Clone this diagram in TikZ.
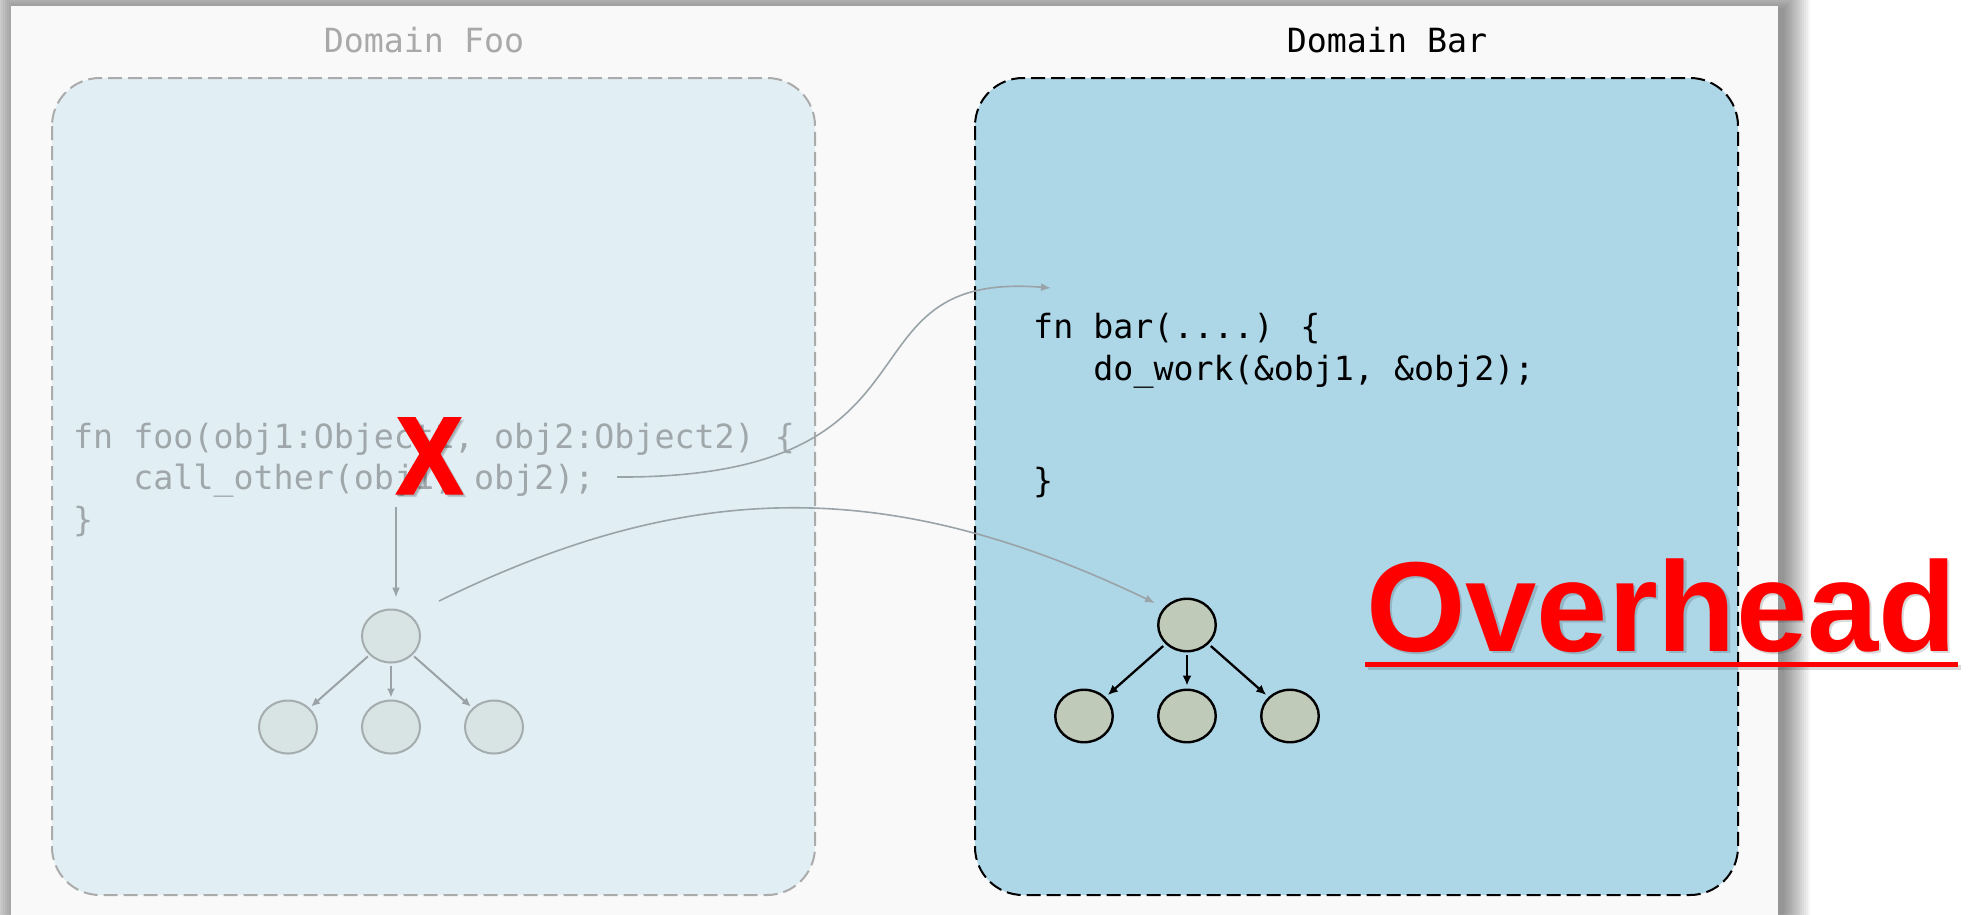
\documentclass[tikz,border=0pt]{standalone}
\usepackage{graphicx}
\usepackage{fontspec}
\usetikzlibrary{arrows.meta,shapes.geometric,calc}
\newfontfamily\codefont{DejaVu Sans Mono}
\newfontfamily\bannerfont{Liberation Sans}
\newfontfamily\heavyfont[FakeBold=3]{Liberation Sans Bold}
\definecolor{panelbg}{HTML}{F9F9F9}
\definecolor{cFooFill}{HTML}{E1EEF4}
\definecolor{cFooDash}{HTML}{ABABAB}
\definecolor{cBarFill}{HTML}{ADD6E7}
\definecolor{cFooText}{HTML}{9FA7AB}
\definecolor{cFooTitle}{HTML}{A9A9A9}
\definecolor{cFooBall}{HTML}{D8E3E3}
\definecolor{cFooBallEdge}{HTML}{A4ACAE}
\definecolor{cFooArrow}{HTML}{9AA2A7}
\definecolor{cBarBall}{HTML}{BFCAB9}
\definecolor{cLink}{HTML}{9AA3A8}
\definecolor{cAlert}{HTML}{FF0000}

\begin{document}
\begin{tikzpicture}[x=1pt,y=-1pt,
  code/.style={font=\codefont\fontsize{33.3}{40}\selectfont, inner sep=0pt, anchor=base west},
  domainbox/.style={rounded corners=48pt, line width=2pt, dash pattern=on 14pt off 6pt},
  fooball/.style={ellipse, draw=cFooBallEdge, fill=cFooBall, line width=2pt,
    minimum width=58pt, minimum height=53pt, inner sep=0pt},
  barball/.style={ellipse, draw=black, fill=cBarBall, line width=2.4pt,
    minimum width=57.5pt, minimum height=52.5pt, inner sep=0pt},
  fooedge/.style={draw=cFooArrow, line width=2pt, -{Latex[length=9pt,width=8pt]},
    shorten <=2pt, shorten >=2pt},
  baredge/.style={draw=black, line width=2.3pt, -{Latex[length=10pt,width=9pt]},
    shorten <=3pt, shorten >=3pt},
  link/.style={draw=cLink, line width=1.6pt, -{Latex[length=10pt,width=8pt]}},
  bigred/.style={font=\bannerfont\bfseries\fontsize{128}{128}\selectfont, text=cAlert,
    inner sep=0pt, anchor=base west},
  crossmark/.style={font=\heavyfont\fontsize{108}{108}\selectfont, text=cAlert,
    inner sep=0pt, anchor=base},
]
\useasboundingbox (0,0) rectangle (1971,914);
\fill[white] (0,0) rectangle (1971,914);
\clip (0,0) rectangle (1971,914);

% soft shadow under the slide panel
\foreach \i in {1,...,14}{
  \fill[black, opacity=0.035] ({17-2*\i},{10-2*\i}) rectangle ({1782+2*\i},{930+2*\i});
}
\fill[panelbg] (11,6) rectangle (1778,940);

% the two domains
\draw[domainbox, draw=cFooDash, fill=cFooFill] (52,78) rectangle (815,895);
\draw[domainbox, draw=black, fill=cBarFill] (975,78) rectangle (1738,895);

\node[code, anchor=base, text=cFooTitle] (tfoo) at (424,52) {Domain Foo};
\node[code, anchor=base] (tbar) at (1387,52) {Domain Bar};

% code in domain Foo
\node[code, text=cFooText] (foo1) at (73,448) {fn foo(obj1:Object1, obj2:Object2) \{};
\node[code, text=cFooText] (foo2) at (133.2,489.5) {call\_other(obj1, obj2);};
\node[code, text=cFooText] (foo3) at (73,531) {\}};

% code in domain Bar
\node[code] (bar1) at (1033,338) {fn bar(....) \{};
\node[code] (bar2) at (1093.2,380) {do\_work(\&obj1, \&obj2);};
\node[code] (bar3) at (1033,492) {\}};

% object tree in Foo
\node[fooball] (fr) at (391,636) {};
\node[fooball] (fc1) at (288,727) {};
\node[fooball] (fc2) at (391,727) {};
\node[fooball] (fc3) at (494,727) {};
\draw[fooedge] (fr) -- (fc1);
\draw[fooedge] (fr) -- (fc2);
\draw[fooedge] (fr) -- (fc3);

% object tree in Bar
\node[barball] (br) at (1187,625) {};
\node[barball] (bc1) at (1084,716) {};
\node[barball] (bc2) at (1187,716) {};
\node[barball] (bc3) at (1290,716) {};
\draw[baredge] (br) -- (bc1);
\draw[baredge] (br) -- (bc2);
\draw[baredge] (br) -- (bc3);

% links
\coordinate (callsite) at (396,507);
\draw[link] (callsite) -- (callsite |- fr.north) [shorten >=11pt];
\coordinate (callout) at (617,477);
\coordinate (barentry) at (1051,288);
\draw[link] (callout) .. controls (960,479) and (830,270) .. (barentry);
\draw[link] ($(fr)+(48,-35)$) .. controls (690,478) and (890,476) .. ($(br)+(-32,-22)$);

% red cross
\node[crossmark, text=black, text opacity=0.15] (crossshade) at (432,495.5) {\scalebox{0.9}[1]{X}};
\node[crossmark] (cross) at (429.5,493) {\scalebox{0.9}[1]{X}};

% overhead banner
\node[bigred, text=black, text opacity=0.15] (ovhshade) at (1368.5,653.5) {Overhead};
\draw[black, opacity=0.15, line width=5pt] ($(ovhshade.base west)+(-1,13.5)$) -- ($(ovhshade.base east)+(1.5,13.5)$);
\node[bigred] (ovh) at (1366,651) {Overhead};
\draw[cAlert, line width=5pt] ($(ovh.base west)+(-1,13.5)$) -- ($(ovh.base east)+(1.5,13.5)$);
\end{tikzpicture}
\end{document}
